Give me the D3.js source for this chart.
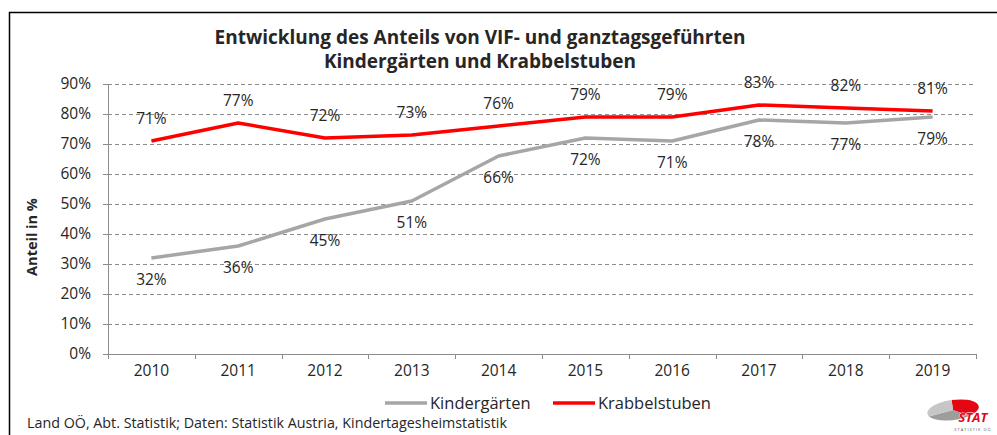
<!DOCTYPE html>
<html>
<head>
<meta charset="utf-8">
<script src="https://cdn.jsdelivr.net/npm/d3@7"></script>
<style>
  body { margin: 0; background: #fff; }
  text { font-family: "Open Sans", "Noto Sans", sans-serif; fill: #262626; }
</style>
</head>
<body>
<svg id="chart"></svg>
<script>
const width = 997;
const height = 435;

const years = ["2010", "2011", "2012", "2013", "2014", "2015", "2016", "2017", "2018", "2019"];
const kindergaerten = [32, 36, 45, 51, 66, 72, 71, 78, 77, 79];
const krabbelstuben = [71, 77, 72, 73, 76, 79, 79, 83, 82, 81];
const yTicks = [0, 10, 20, 30, 40, 50, 60, 70, 80, 90];

const series = [
  { name: "Kindergärten", values: kindergaerten, color: "#a6a6a6", labelDy: 27 },
  { name: "Krabbelstuben", values: krabbelstuben, color: "#ff0000", labelDy: -17 }
];

const margin = { left: 108, right: 21, top: 84, bottom: 81 };

const svg = d3.select("#chart").attr("width", width).attr("height", height);

// frame
svg.append("rect")
  .attr("x", 9.5).attr("y", 12.5)
  .attr("width", 1100).attr("height", 600)
  .attr("fill", "none").attr("stroke", "#000").attr("stroke-width", 1.5);

const x = d3.scaleBand()
  .domain(years)
  .range([margin.left, width - margin.right]);

const y = d3.scaleLinear()
  .domain([0, 90])
  .range([height - margin.bottom, margin.top]);

// grid
svg.append("g")
  .selectAll("line")
  .data(yTicks.filter((d) => d > 0))
  .enter()
  .append("line")
  .attr("x1", margin.left).attr("x2", width - margin.right)
  .attr("y1", (d) => Math.round(y(d)) + 0.5).attr("y2", (d) => Math.round(y(d)) + 0.5)
  .attr("stroke", "#8c8c8c").attr("stroke-dasharray", "4,3").attr("stroke-width", 1);

// y axis
const yAxis = svg.append("g")
  .attr("transform", `translate(${margin.left},0)`)
  .call(d3.axisLeft(y).tickValues(yTicks).tickFormat((d) => d + "%").tickSize(5).tickPadding(12));
yAxis.select(".domain").attr("stroke", "#8c8c8c");
yAxis.selectAll(".tick line").attr("stroke", "#8c8c8c");
yAxis.selectAll(".tick text").attr("font-size", 15.5).attr("fill", "#262626")
  .style("font-family", '"Open Sans", sans-serif');

// x axis
const xAxis = svg.append("g")
  .attr("transform", `translate(0,${y(0)})`)
  .call(d3.axisBottom(x).tickSize(0).tickPadding(11));
xAxis.select(".domain").attr("stroke", "#8c8c8c");
xAxis.selectAll(".tick text").attr("font-size", 15.5).attr("fill", "#262626")
  .style("font-family", '"Open Sans", sans-serif');

// band boundary ticks
svg.append("g")
  .selectAll("line")
  .data(years.map((d) => x(d)).concat([x(years[years.length - 1]) + x.bandwidth()]))
  .enter()
  .append("line")
  .attr("x1", (d) => Math.round(d) + 0.5).attr("x2", (d) => Math.round(d) + 0.5)
  .attr("y1", y(0)).attr("y2", y(0) + 5)
  .attr("stroke", "#8c8c8c");

// lines
const line = d3.line()
  .x((d, i) => x(years[i]) + x.bandwidth() / 2)
  .y((d) => y(d));

series.forEach((s) => {
  svg.append("path")
    .datum(s.values)
    .attr("d", line)
    .attr("fill", "none")
    .attr("stroke", s.color)
    .attr("stroke-width", 3.5)
    .attr("stroke-linejoin", "round");

  svg.append("g")
    .selectAll("text")
    .data(s.values)
    .enter()
    .append("text")
    .attr("x", (d, i) => x(years[i]) + x.bandwidth() / 2)
    .attr("y", (d) => y(d) + s.labelDy)
    .attr("text-anchor", "middle")
    .attr("font-size", 15.5)
    .text((d) => d + "%");
});

// title
svg.append("text")
  .attr("x", 480).attr("y", 44)
  .attr("text-anchor", "middle")
  .attr("font-size", 19).attr("font-weight", "bold")
  .text("Entwicklung des Anteils von VIF- und ganztagsgeführten");
svg.append("text")
  .attr("x", 480).attr("y", 68)
  .attr("text-anchor", "middle")
  .attr("font-size", 19).attr("font-weight", "bold")
  .text("Kindergärten und Krabbelstuben");

// y axis title
svg.append("text")
  .attr("transform", "translate(37,237) rotate(-90)")
  .attr("text-anchor", "middle")
  .attr("font-size", 14.5).attr("font-weight", "bold")
  .text("Anteil in %");

// legend
const legend = svg.append("g")
  .selectAll("g")
  .data(series)
  .enter()
  .append("g")
  .attr("transform", (d, i) => `translate(${385 + i * 168},403)`);
legend.append("line")
  .attr("x1", 0).attr("x2", 42).attr("y1", 0).attr("y2", 0)
  .attr("stroke", (d) => d.color).attr("stroke-width", 3.5);
legend.append("text")
  .attr("x", 45).attr("y", 6)
  .attr("font-size", 16.5)
  .text((d) => d.name);

// source
svg.append("text")
  .attr("x", 27).attr("y", 428)
  .attr("font-size", 14.3)
  .attr("fill", "#000")
  .text("Land OÖ, Abt. Statistik; Daten: Statistik Austria, Kindertagesheimstatistik");

// logo
const logo = svg.append("g").attr("transform", "translate(953,410)");
const pie = d3.pie().sort(null)([40, 30, 30]);
const arc = d3.arc().innerRadius(0).outerRadius(1);
const logoColors = ["#e30613", "#9d9d9d", "#c6c6c6"];
logo.append("g")
  .attr("transform", "rotate(-8) scale(26,10)")
  .selectAll("path")
  .data(pie)
  .enter()
  .append("path")
  .attr("d", arc)
  .attr("fill", (d, i) => logoColors[i]);
logo.append("text")
  .attr("x", 20).attr("y", 12)
  .attr("text-anchor", "middle")
  .attr("font-size", 13).attr("font-weight", "bold").attr("font-style", "italic")
  .style("fill", "#e30613").attr("stroke", "#fff").attr("stroke-width", 0.8)
  .attr("paint-order", "stroke")
  .text("STAT");
logo.append("text")
  .attr("x", 20).attr("y", 21)
  .attr("text-anchor", "middle")
  .attr("font-size", 4).attr("letter-spacing", 1)
  .style("fill", "#555")
  .text("STATISTIK OÖ");
</script>
</body>
</html>
